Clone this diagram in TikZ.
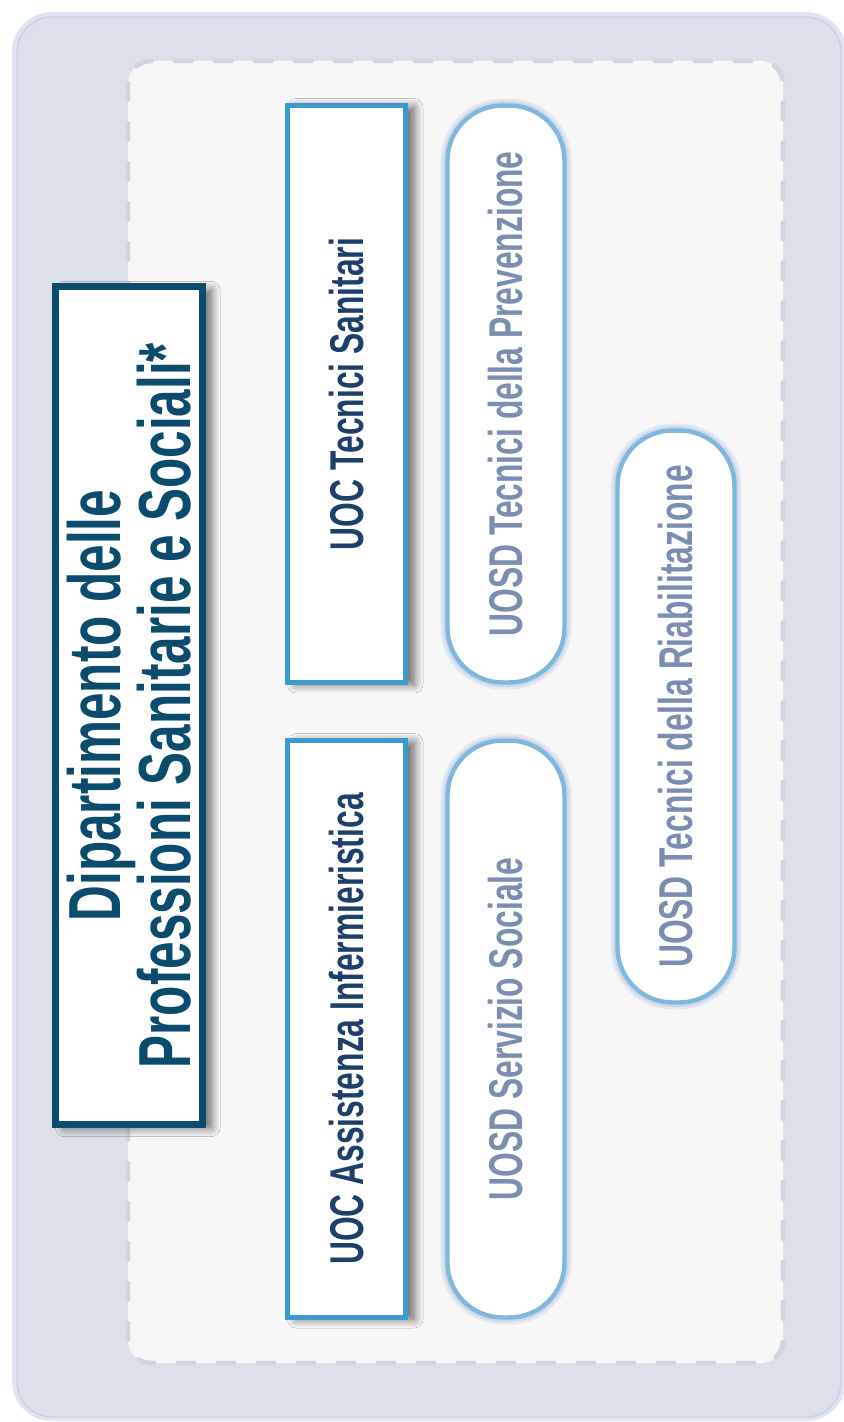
\documentclass[tikz,border=0pt]{standalone}
\usepackage{fontspec}
\newfontfamily\orgfont[FakeStretch=0.67]{Liberation Sans}
\usetikzlibrary{shadows.blur}

\definecolor{panelgray}{HTML}{DCE0EA}
\definecolor{paneledge}{HTML}{CBD2E0}
\definecolor{innerfill}{HTML}{F7F7F7}
\definecolor{dashgray}{HTML}{D0D5E1}
\definecolor{deptblue}{HTML}{0A4B6E}
\definecolor{uocblue}{HTML}{3C9AD1}
\definecolor{uoctext}{HTML}{1E3F6B}
\definecolor{uosdblue}{HTML}{80B8DB}
\definecolor{uosdtext}{HTML}{7B8DB0}
\definecolor{glowblue}{HTML}{C9D3EA}

\tikzset{
  dept/.style={draw=deptblue, line width=3.8pt, fill=white, rotate=90,
    minimum width=16.76cm, minimum height=2.94cm, align=center,
    text=deptblue, font=\orgfont\bfseries\fontsize{42}{37}\selectfont,
    blur shadow={shadow xshift=5pt, shadow yshift=-2pt, shadow blur radius=5pt,
      shadow blur steps=10, shadow opacity=60}},
  uoc/.style={draw=uocblue, line width=2.8pt, fill=white, rotate=90,
    minimum width=11.54cm, minimum height=2.36cm,
    text=uoctext, font=\orgfont\bfseries\fontsize{27}{30}\selectfont,
    blur shadow={shadow xshift=5pt, shadow yshift=-1pt, shadow blur radius=5pt,
      shadow blur steps=10, shadow opacity=60}},
  uosd/.style={draw=uosdblue, line width=2.5pt, fill=white, rotate=90,
    rounded corners=1.1cm, minimum width=11.54cm, minimum height=2.34cm,
    text=uosdtext, font=\orgfont\bfseries\fontsize{27}{30}\selectfont,
    preaction={draw=glowblue, line width=8pt, opacity=0.4},
    preaction={draw=glowblue, line width=5pt, opacity=0.8}},
}

\begin{document}
\begin{tikzpicture}[x=0.02cm, y=-0.02cm]
  \useasboundingbox (0,0) rectangle (843,1422);
  % panels
  \fill[glowblue!60, rounded corners=0.8cm] (12,12) rectangle (846,1421);
  \draw[paneledge, fill=panelgray, line width=0.8pt, rounded corners=0.7cm] (17,17) rectangle (841,1417);
  \draw[dashgray, fill=innerfill, line width=2.8pt, line cap=round,
    dash pattern=on 0.32cm off 0.48cm, rounded corners=0.45cm] (128,61) rectangle (783,1363);

  % department
  \node[dept] (dept) at (129,705.5) {Dipartimento delle\\Professioni Sanitarie e Sociali*};

  % units
  \node[uoc] (sanitari) at (346.5,394) {UOC Tecnici Sanitari};
  \node[uoc] (infermier) at (346.5,1029) {UOC Assistenza Infermieristica};
  \node[uosd] (prevenz) at (506,394) {UOSD Tecnici della Prevenzione};
  \node[uosd] (sociale) at (506,1029) {UOSD Servizio Sociale};
  \node[uosd, minimum width=11.44cm] (riabilit) at (676,716.5) {UOSD Tecnici della Riabilitazione};
\end{tikzpicture}
\end{document}
